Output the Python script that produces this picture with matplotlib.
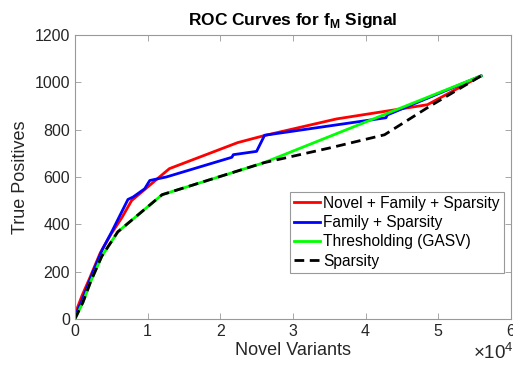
import matplotlib
matplotlib.use("Agg")
import matplotlib.pyplot as plt
from matplotlib.ticker import FuncFormatter

plt.rcParams['font.family'] = ['Liberation Sans', 'DejaVu Sans']
plt.rcParams['mathtext.fontset'] = 'custom'
plt.rcParams['mathtext.rm'] = 'Liberation Sans'
plt.rcParams['mathtext.bf'] = 'Liberation Sans:bold'

# ---------------- data ----------------
red_x = [0, 1000, 2000, 3500, 5000, 6500, 7800, 10300, 13000, 22400, 26100, 36000, 48500, 55900]
red_y = [20, 100, 170, 280, 360, 430, 500, 565, 635, 745, 775, 845, 905, 1027]

blue_x = [0, 1000, 2500, 3800, 5100, 7300, 8000, 9600, 10300, 12600, 21600, 21800, 25000, 26100, 42800, 43000, 55900]
blue_y = [10, 80, 200, 295, 370, 505, 515, 550, 585, 600, 683, 694, 708, 776, 850, 862, 1027]

green_x = [0, 1100, 2200, 3700, 5900, 12000, 26000, 55900]
green_y = [0, 70, 160, 265, 368, 525, 660, 1027]

black_x = [0, 1100, 2200, 3700, 5900, 12000, 26000, 35000, 42600, 48800, 55900]
black_y = [0, 70, 160, 265, 368, 525, 660, 722, 778, 898, 1027]

labels = ['Novel + Family + Sparsity', 'Family + Sparsity', 'Thresholding (GASV)', 'Sparsity']

# ---------------- plot ----------------
fig = plt.figure(figsize=(5.13, 3.69), dpi=100)
ax = fig.add_axes([0.146, 0.1355, 0.85, 0.77])

lw = 2.0
ax.plot(red_x, red_y, color=(1, 0, 0), lw=lw, label=labels[0])
ax.plot(blue_x, blue_y, color=(0, 0, 1), lw=lw, label=labels[1])
ax.plot(green_x, green_y, color=(0, 1, 0), lw=lw, label=labels[2])
ax.plot(black_x, black_y, color='k', lw=lw, ls=(0, (3.5, 2)), label=labels[3])

ax.set_xlim(0, 60000)
ax.set_ylim(0, 1200)
ax.set_xticks(range(0, 60001, 10000))
ax.set_yticks(range(0, 1201, 200))
ax.xaxis.set_major_formatter(FuncFormatter(lambda v, p: f"{v/1e4:g}"))

axis_col = '#262626'
for s in ax.spines.values():
    s.set_color('#999999')
    s.set_linewidth(0.8)
ax.tick_params(direction='in', top=True, right=True, labelsize=11.5,
               colors='#999999', labelcolor=axis_col, length=4, width=0.6)

ax.set_xlabel('Novel Variants', fontsize=13, color=axis_col, labelpad=2)
ax.set_ylabel('True Positives', fontsize=13, color=axis_col, labelpad=4)
ax.set_title(r'ROC Curves for f$_\mathbf{M}$ Signal', fontsize=12.5, fontweight='bold', pad=7)
ax.text(1.006, -0.085, r'$\times\mathregular{10^4}$', transform=ax.transAxes, ha='right', va='top',
        fontsize=13.5, color=axis_col)

leg = ax.legend(loc='upper right', bbox_to_anchor=(0.983, 0.448), fontsize=11.2,
                fancybox=False, framealpha=1, edgecolor='#999999',
                handlelength=1.65, handletextpad=0.2, borderpad=0.25,
                labelspacing=0.28, borderaxespad=0)
leg.get_frame().set_linewidth(0.8)

fig.savefig('out.png', dpi=100)
